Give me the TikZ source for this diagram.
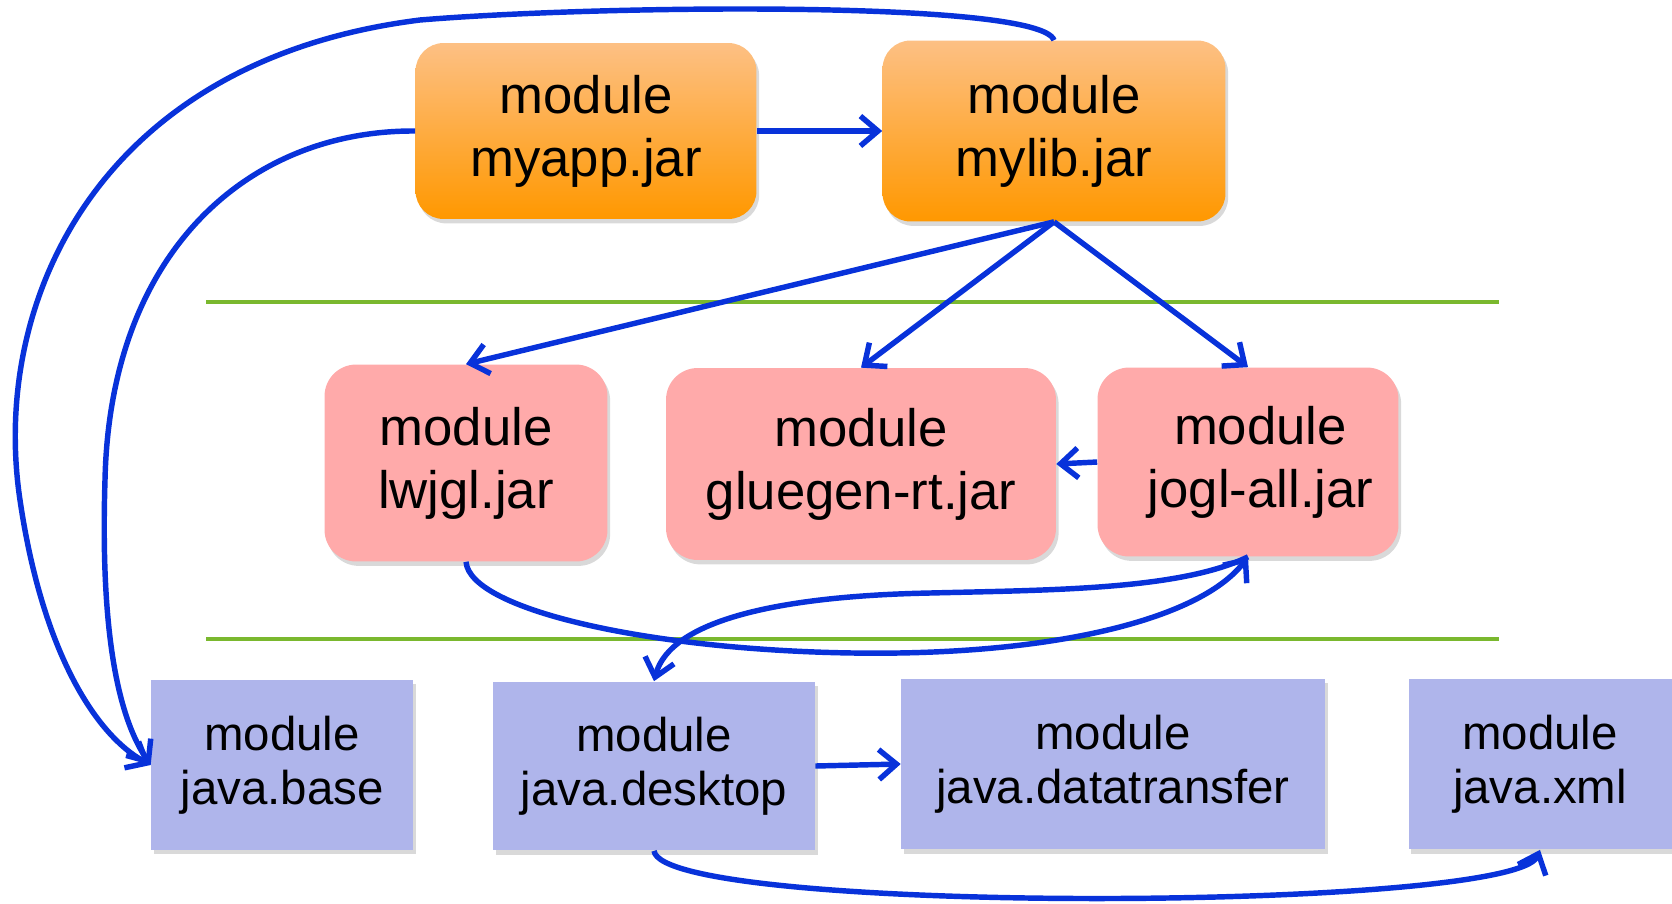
\documentclass[tikz,border=0pt]{standalone}
\usepackage{fontspec}
\setmainfont{Liberation Sans}
\usepackage{tikz}
\usetikzlibrary{arrows.meta,shadows}

\definecolor{orangetop}{RGB}{253,192,132}
\definecolor{orangebot}{RGB}{255,152,0}
\definecolor{libpink}{RGB}{255,170,170}
\definecolor{jdkblue}{RGB}{175,181,235}
\definecolor{depblue}{RGB}{8,50,218}
\definecolor{layergreen}{RGB}{122,184,46}

\begin{document}
\begin{tikzpicture}[x=0.02cm,y=-0.02cm,>={Straight Barb[length=10pt,width=17pt]},
    modbox/.style={inner sep=0pt,align=center,drop shadow={shadow xshift=1.5pt,shadow yshift=-2.5pt,opacity=.3}},
    appbox/.style={modbox,rounded corners=16pt,top color=orangetop,bottom color=orangebot,font=\fontsize{30}{36}\selectfont},
    libbox/.style={modbox,rounded corners=18pt,fill=libpink,font=\fontsize{30}{36}\selectfont},
    jdkbox/.style={modbox,fill=jdkblue,font=\fontsize{27}{31}\selectfont},
    dep/.style={draw=depblue,line width=3.1pt,line join=round,->},
    layer/.style={draw=layergreen,line width=2.8pt}]
  \useasboundingbox (0,0) rectangle (1672,903);
  % layer separators
  \draw[layer] (206,302) -- (1499,302);
  \draw[layer] (206,639) -- (1499,639);
  % application modules
  \node[appbox,minimum width=6.82cm,minimum height=3.52cm] (myapp) at (586,131) {module\\myapp.jar};
  \node[appbox,minimum width=6.86cm,minimum height=3.62cm] (mylib) at (1054,131) {module\\mylib.jar};
  % library modules
  \node[libbox,minimum width=5.66cm,minimum height=3.94cm] (lwjgl) at (466,463) {module\\lwjgl.jar};
  \node[libbox,minimum width=7.80cm,minimum height=3.84cm] (gluegen) at (861,464) {module\\gluegen-rt.jar};
  \node[libbox,minimum width=6.02cm,minimum height=3.78cm] (jogl) at (1248,462) {\hspace*{0.5cm}module\\\hspace*{0.5cm}jogl-all.jar};
  % platform modules
  \node[jdkbox,minimum width=5.24cm,minimum height=3.40cm] (base) at (282,765) {module\\java.base};
  \node[jdkbox,minimum width=6.44cm,minimum height=3.38cm] (desktop) at (654,766) {module\\java.desktop};
  \node[jdkbox,minimum width=8.48cm,minimum height=3.42cm] (datatransfer) at (1113,764) {module\\java.datatransfer};
  \node[jdkbox,minimum width=5.26cm,minimum height=3.42cm] (xml) at (1540,764) {module\\java.xml};
  % dependencies
  \draw[dep] (myapp.east) -- (mylib.west);
  \foreach \lib in {lwjgl,gluegen,jogl}
    \draw[dep] (mylib.south) -- (\lib.north);
  \draw[dep] (jogl.west) -- (gluegen.east);
  \draw[dep] (desktop.east) -- (datatransfer.west);
  \draw[dep] (mylib.north) .. controls (1040,0) and (600,5) .. (420,20)
    .. controls (100,60) and (-10,300) .. (20,500)
    .. controls (42,650) and (95,735) .. (base.west);
  \draw[dep] (myapp.west) .. controls (250,130) and (110,250) .. (105,480)
    .. controls (100,640) and (120,720) .. (base.west);
  \draw[dep] (lwjgl.south) .. controls (470,610) and (650,650) .. (853,653)
    .. controls (1050,656) and (1200,620) .. (jogl.south);
  \draw[dep] (jogl.south) .. controls (1180,590) and (1050,590) .. (930,593)
    .. controls (780,596) and (670,620) .. (desktop.north);
  \draw[dep] (desktop.south) .. controls (662,915) and (1515,912) .. (xml.south);
\end{tikzpicture}
\end{document}
